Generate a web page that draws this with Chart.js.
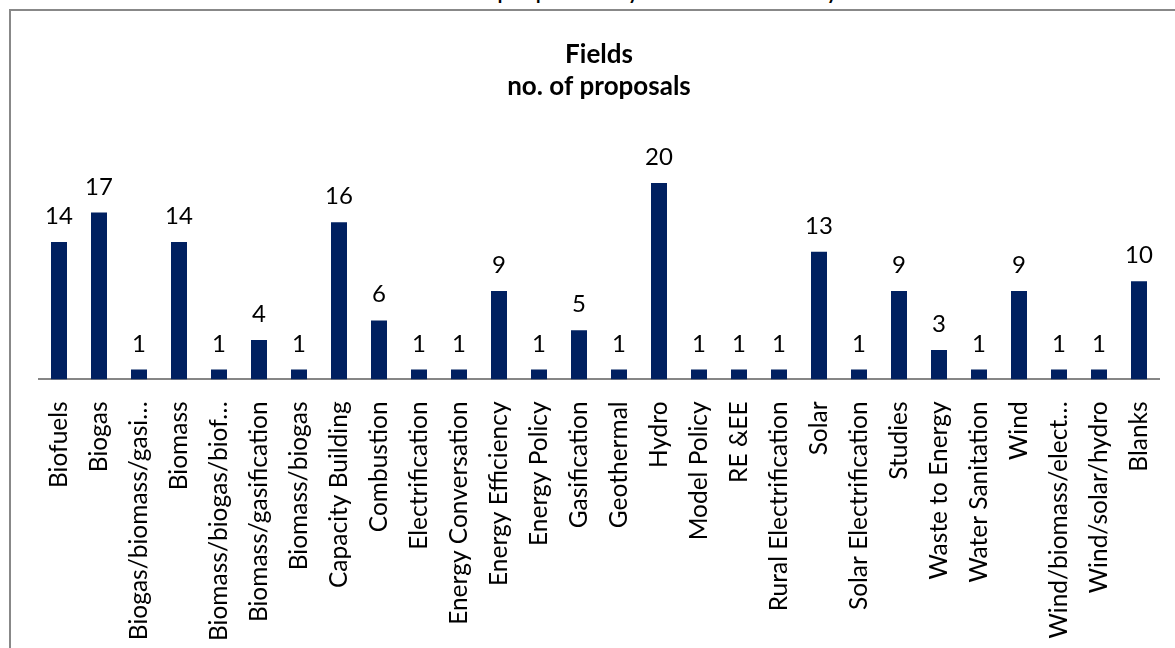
<!DOCTYPE html>
<html>
<head>
<meta charset="utf-8">
<script src="https://cdn.jsdelivr.net/npm/chart.js@4"></script>
<style>
  html, body { margin: 0; padding: 0; background: #fff; width: 1175px; height: 648px; overflow: hidden; position: relative; }
  #caption { position: absolute; left: 368px; top: -25px; font-family: Lato, sans-serif; font-size: 26px; color: #000; white-space: nowrap; line-height: 26px; }
  #box { position: absolute; left: 9px; top: 9px; width: 1190px; height: 660px; border-top: 2px solid #888888; border-left: 2px solid #888888; background: #fff; }
  #wrap { position: absolute; left: 0; top: 0; width: 1180px; height: 652px; }
</style>
</head>
<body>
<div id="caption">Number of proposals by field and country</div>
<div id="box"><div id="wrap"><canvas id="c"></canvas></div></div>
<script>
const categories = [
  "Biofuels", "Biogas", "Biogas/biomass/gasi\u2026", "Biomass", "Biomass/biogas/biof\u2026",
  "Biomass/gasification", "Biomass/biogas", "Capacity Building", "Combustion", "Electrification",
  "Energy Conversation", "Energy Efficiency", "Energy Policy", "Gasification", "Geothermal",
  "Hydro", "Model Policy", "RE &EE", "Rural Electrification", "Solar",
  "Solar Electrification", "Studies", "Waste to Energy", "Water Sanitation", "Wind",
  "Wind/biomass/elect\u2026", "Wind/solar/hydro", "Blanks"
];
const proposals = [14, 17, 1, 14, 1, 4, 1, 16, 6, 1, 1, 9, 1, 5, 1, 20, 1, 1, 1, 13, 1, 9, 3, 1, 9, 1, 1, 10];
const titleLines = ["Fields", "no. of proposals"];

const FONT = "Lato, 'Open Sans', sans-serif";

const valueLabels = {
  id: 'valueLabels',
  afterDatasetsDraw(chart) {
    const ctx = chart.ctx;
    const meta = chart.getDatasetMeta(0);
    ctx.save();
    ctx.font = "24px " + FONT;
    ctx.fillStyle = "#000";
    ctx.textAlign = "center";
    ctx.textBaseline = "alphabetic";
    meta.data.forEach((bar, i) => {
      ctx.fillText(String(chart.data.datasets[0].data[i]), bar.x, bar.y - 18);
    });
    ctx.restore();
  }
};

function draw() {
  new Chart(document.getElementById('c'), {
    type: 'bar',
    data: {
      labels: categories,
      datasets: [{
        data: proposals,
        backgroundColor: '#002060',
        borderWidth: 0,
        barPercentage: 0.4,
        categoryPercentage: 1.0
      }]
    },
    options: {
      responsive: true,
      maintainAspectRatio: false,
      animation: false,
      events: [],
      layout: { padding: { left: 28, right: 32, top: 12, bottom: 0 } },
      plugins: {
        legend: { display: false },
        tooltip: { enabled: false },
        title: {
          display: true,
          text: titleLines,
          color: '#000',
          font: { family: FONT, size: 26, weight: 'bold', lineHeight: 1.25 },
          padding: { top: 15, bottom: 31 }
        }
      },
      scales: {
        x: {
          grid: { display: false, drawTicks: false },
          border: { display: true, color: '#868686', width: 2 },
          ticks: {
            autoSkip: false,
            minRotation: 90,
            maxRotation: 90,
            padding: 22,
            color: '#000',
            font: { family: FONT, size: 24.5 }
          }
        },
        y: {
          display: false,
          min: 0,
          max: 25
        }
      }
    },
    plugins: [valueLabels]
  });
}

if (document.fonts && document.fonts.load) {
  Promise.all([document.fonts.load("24px Lato"), document.fonts.load("bold 26px Lato")]).then(draw, draw);
} else { draw(); }
</script>
</body>
</html>
